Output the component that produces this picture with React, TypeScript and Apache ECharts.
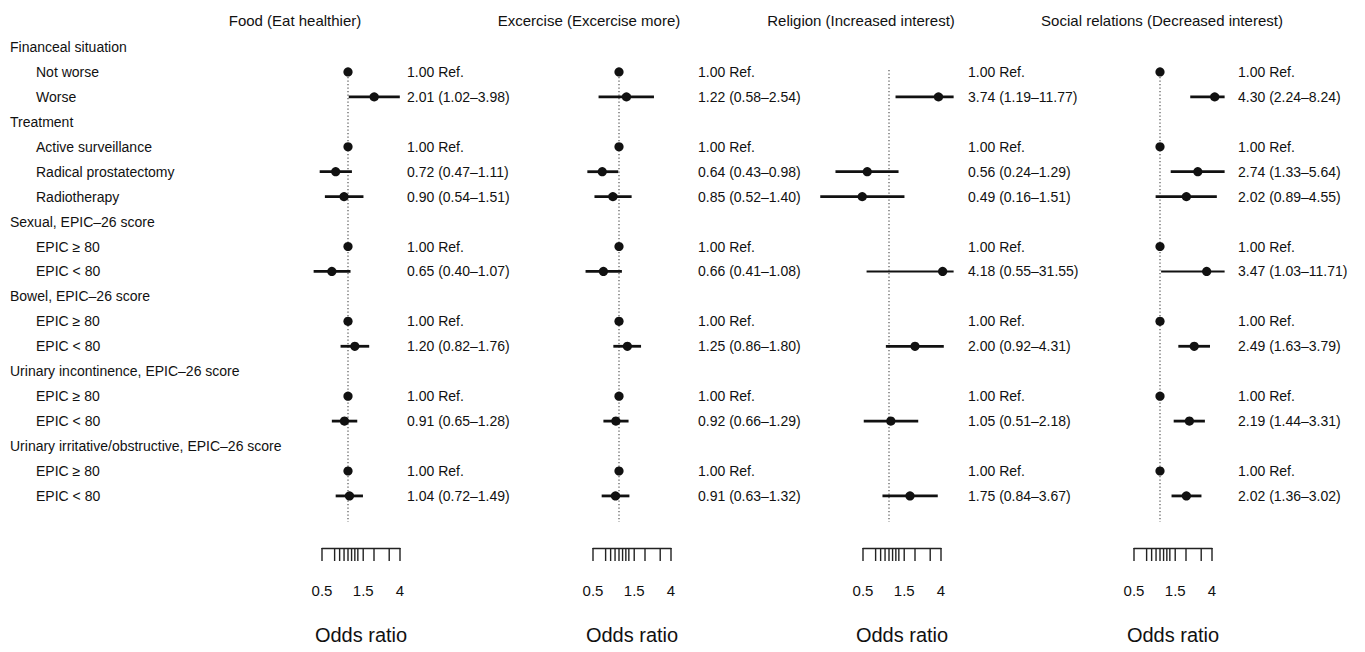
import { useEffect, useRef } from "react";
import * as echarts from "echarts";

// ---------- data ----------
const rowLabels = [
  "Financeal situation",
  "Not worse",
  "Worse",
  "Treatment",
  "Active surveillance",
  "Radical prostatectomy",
  "Radiotherapy",
  "Sexual, EPIC\u201326 score",
  "EPIC \u2265 80",
  "EPIC < 80",
  "Bowel, EPIC\u201326 score",
  "EPIC \u2265 80",
  "EPIC < 80",
  "Urinary incontinence, EPIC\u201326 score",
  "EPIC \u2265 80",
  "EPIC < 80",
  "Urinary irritative/obstructive, EPIC\u201326 score",
  "EPIC \u2265 80",
  "EPIC < 80",
];
const headerRows = [0, 3, 7, 10, 13, 16];

const panelTitles = [
  "Food (Eat healthier)",
  "Excercise (Excercise more)",
  "Religion (Increased interest)",
  "Social relations (Decreased interest)",
];

const foodOR = [1.0, 2.01, 1.0, 0.72, 0.9, 1.0, 0.65, 1.0, 1.2, 1.0, 0.91, 1.0, 1.04];
const foodLower = [null, 1.02, null, 0.47, 0.54, null, 0.4, null, 0.82, null, 0.65, null, 0.72];
const foodUpper = [null, 3.98, null, 1.11, 1.51, null, 1.07, null, 1.76, null, 1.28, null, 1.49];

const exerciseOR = [1.0, 1.22, 1.0, 0.64, 0.85, 1.0, 0.66, 1.0, 1.25, 1.0, 0.92, 1.0, 0.91];
const exerciseLower = [null, 0.58, null, 0.43, 0.52, null, 0.41, null, 0.86, null, 0.66, null, 0.63];
const exerciseUpper = [null, 2.54, null, 0.98, 1.4, null, 1.08, null, 1.8, null, 1.29, null, 1.32];

const religionOR = [1.0, 3.74, 1.0, 0.56, 0.49, 1.0, 4.18, 1.0, 2.0, 1.0, 1.05, 1.0, 1.75];
const religionLower = [null, 1.19, null, 0.24, 0.16, null, 0.55, null, 0.92, null, 0.51, null, 0.84];
const religionUpper = [null, 11.77, null, 1.29, 1.51, null, 31.55, null, 4.31, null, 2.18, null, 3.67];

const socialOR = [1.0, 4.3, 1.0, 2.74, 2.02, 1.0, 3.47, 1.0, 2.49, 1.0, 2.19, 1.0, 2.02];
const socialLower = [null, 2.24, null, 1.33, 0.89, null, 1.03, null, 1.63, null, 1.44, null, 1.36];
const socialUpper = [null, 8.24, null, 5.64, 4.55, null, 11.71, null, 3.79, null, 3.31, null, 3.02];

const refValue = 1;
const tickValues = [0.5, 0.7, 0.8, 0.9, 1, 1.1, 1.2, 1.3, 1.5, 2, 3, 4];
const tickLabels = [0.5, 1.5, 4];
const axisName = "Odds ratio";

// ---------- layout ----------
const W = 1365;
const H = 652;
const FONT = "'Liberation Sans', Arial, Helvetica, sans-serif";
const PX_PER_DOUBLING = 26;
const oneX = [348, 619, 889, 1160];
const textX = [407, 698, 968, 1238];
const titleX = [295, 589, 861, 1162];
const refDot = [true, true, false, true];
const rowY0 = 47;
const rowStep = 24.94;
const plotMin = 0.125;
const plotMax = 5.6;
const refTop = 70;
const refBottom = 522;
const axisY = 548;

const panels = [
  { or: foodOR, lo: foodLower, hi: foodUpper },
  { or: exerciseOR, lo: exerciseLower, hi: exerciseUpper },
  { or: religionOR, lo: religionLower, hi: religionUpper },
  { or: socialOR, lo: socialLower, hi: socialUpper },
];

const itemRows = rowLabels.map((_, i) => i).filter((i) => !headerRows.includes(i));

function fmt(v: number) {
  return v.toFixed(2);
}

function buildOption() {
  const grids: any[] = [];
  const xAxes: any[] = [];
  const yAxes: any[] = [];
  const series: any[] = [];
  const graphics: any[] = [];

  const lgMin = Math.log2(plotMin);
  const lgMax = Math.log2(plotMax);
  const lg05 = Math.log2(tickValues[0]);
  const lg4 = Math.log2(tickValues[tickValues.length - 1]);

  // data grids (0..3)
  panels.forEach((pd, i) => {
    grids.push({
      left: oneX[i] + lgMin * PX_PER_DOUBLING,
      width: (lgMax - lgMin) * PX_PER_DOUBLING,
      top: refTop,
      height: refBottom - refTop,
      containLabel: false,
      outerBoundsMode: "none",
    });
    xAxes.push({
      type: "log",
      logBase: 2,
      gridIndex: i,
      min: plotMin,
      max: plotMax,
      show: false,
      splitLine: { show: false },
    });
    yAxes.push({
      type: "value",
      gridIndex: i,
      inverse: true,
      min: (refTop - rowY0) / rowStep,
      max: (refBottom - rowY0) / rowStep,
      show: false,
      splitLine: { show: false },
    });
    series.push({
      type: "custom",
      xAxisIndex: i,
      yAxisIndex: i,
      silent: true,
      data: itemRows.map((r, k) => [pd.or[k], r]),
      renderItem: (params: any, api: any) => {
        const k = params.dataIndex;
        const cs = params.coordSys;
        const row = itemRows[k];
        const est = pd.or[k];
        const lo = pd.lo[k];
        const hi = pd.hi[k];
        const p = api.coord([est, row]);
        const children: any[] = [];
        if (k === 0) {
          const rx = api.coord([refValue, row])[0];
          children.push({
            type: "line",
            shape: { x1: rx, y1: cs.y, x2: rx, y2: cs.y + cs.height },
            style: { stroke: "#444", lineWidth: 1.1, lineDash: [1.2, 2.3] },
          });
        }
        if (lo != null && hi != null) {
          const a = api.coord([lo, row])[0];
          const b = api.coord([hi, row])[0];
          const x1 = Math.max(a, cs.x);
          const x2 = Math.min(b, cs.x + cs.width);
          const wide = Math.log2(hi / lo) > 3.4;
          children.push({
            type: "line",
            shape: { x1, y1: p[1], x2, y2: p[1] },
            style: { stroke: "#111", lineWidth: wide ? 1.9 : 2.8 },
          });
        }
        if (lo != null || refDot[i]) {
          children.push({
            type: "circle",
            shape: { cx: p[0], cy: p[1], r: 4.6 },
            style: { fill: "#111" },
          });
        }
        const label = lo == null ? `${fmt(est)} Ref.` : `${fmt(est)} (${fmt(lo)}\u2013${fmt(hi as number)})`;
        children.push({
          type: "text",
          x: textX[i],
          y: p[1],
          style: {
            text: label,
            fill: "#111",
            fontSize: 14,
            fontFamily: FONT,
            align: "left",
            verticalAlign: "middle",
          },
        });
        return { type: "group", children };
      },
    });

    graphics.push({
      type: "text",
      x: titleX[i],
      y: 20,
      style: {
        text: panelTitles[i],
        fill: "#111",
        fontSize: 15,
        fontFamily: FONT,
        align: "center",
        verticalAlign: "middle",
      },
    });
  });

  // axis grids (4..7)
  panels.forEach((_, i) => {
    const gi = 4 + i;
    grids.push({
      left: oneX[i] + lg05 * PX_PER_DOUBLING,
      width: (lg4 - lg05) * PX_PER_DOUBLING,
      top: axisY - 10,
      height: 10,
      containLabel: false,
      outerBoundsMode: "none",
    });
    xAxes.push({
      type: "log",
      logBase: 2,
      gridIndex: gi,
      min: tickValues[0],
      max: tickValues[tickValues.length - 1],
      position: "bottom",
      axisLine: { show: true, lineStyle: { color: "#222", width: 1.4 } },
      axisTick: { show: false },
      axisLabel: { show: false },
      splitLine: { show: false },
      name: axisName,
      nameLocation: "middle",
      nameGap: 77,
      nameTextStyle: { fontSize: 20, color: "#111", fontFamily: FONT },
    });
    yAxes.push({
      type: "value",
      gridIndex: gi,
      min: 0,
      max: 1,
      show: false,
      splitLine: { show: false },
    });
    series.push({
      type: "custom",
      xAxisIndex: gi,
      yAxisIndex: gi,
      silent: true,
      data: tickValues.map((v) => [v, 0]),
      renderItem: (params: any, api: any) => {
        const v = tickValues[params.dataIndex];
        const p = api.coord([v, 0]);
        const children: any[] = [
          {
            type: "line",
            shape: { x1: p[0], y1: p[1], x2: p[0], y2: p[1] + 13 },
            style: { stroke: "#222", lineWidth: 1.4 },
          },
        ];
        if (tickLabels.includes(v)) {
          children.push({
            type: "text",
            x: p[0],
            y: p[1] + 42,
            style: {
              text: String(v),
              fill: "#111",
              fontSize: 15,
              fontFamily: FONT,
              align: "center",
              verticalAlign: "middle",
            },
          });
        }
        return { type: "group", children };
      },
    });
  });

  // row-label grid (8)
  grids.push({
    left: 10,
    width: 200,
    top: rowY0 - rowStep / 2,
    height: rowStep * rowLabels.length,
    containLabel: false,
    outerBoundsMode: "none",
  });
  xAxes.push({ type: "value", gridIndex: 8, show: false, splitLine: { show: false } });
  yAxes.push({
    type: "category",
    gridIndex: 8,
    inverse: true,
    data: rowLabels,
    axisLine: { show: false },
    axisTick: { show: false },
    splitLine: { show: false },
    axisLabel: {
      inside: true,
      margin: 0,
      interval: 0,
      formatter: (value: string, index: number) =>
        headerRows.includes(index) ? `{h|${value}}` : `{i|${value}}`,
      rich: {
        h: { fontSize: 14, color: "#111", fontFamily: FONT },
        i: { fontSize: 14, color: "#111", fontFamily: FONT, padding: [0, 0, 0, 26] },
      },
    },
  });

  return {
    animation: false,
    backgroundColor: "#ffffff",
    grid: grids,
    xAxis: xAxes,
    yAxis: yAxes,
    series,
    graphic: graphics,
  };
}

export default function App() {
  const ref = useRef<HTMLDivElement>(null);
  useEffect(() => {
    if (!ref.current) return;
    const chart = echarts.init(ref.current, null, { renderer: "svg" });
    chart.setOption(buildOption() as any);
    return () => chart.dispose();
  }, []);
  return (
    <div
      ref={ref}
      style={{ position: "fixed", left: 0, top: 0, width: W, height: H, background: "#fff" }}
    />
  );
}
